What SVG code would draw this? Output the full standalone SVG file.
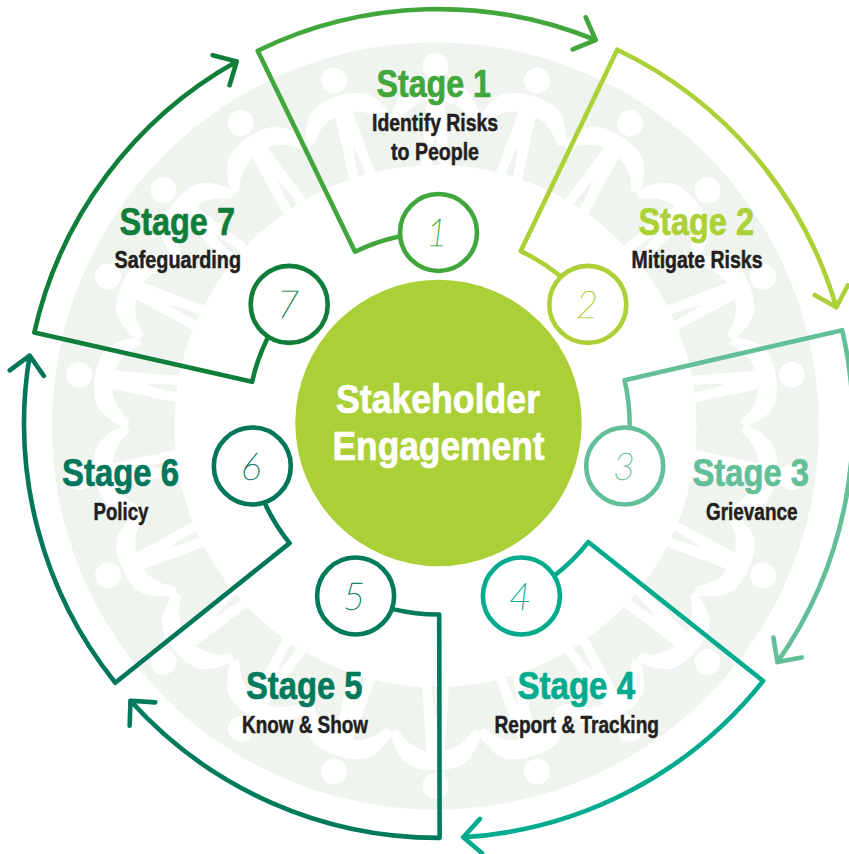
<svg xmlns="http://www.w3.org/2000/svg" xmlns:xlink="http://www.w3.org/1999/xlink" width="849" height="854" viewBox="0 0 849 854">
<style>
.seg{fill:none;stroke-width:4.6;stroke-linejoin:round;stroke-linecap:round}
.ring{fill:#fff;stroke-width:4.6}
.t{font-family:"Liberation Sans",Arial,sans-serif;font-weight:700;stroke-linejoin:round}
.st{font-size:38px;stroke:currentColor;stroke-width:.7px}
.sub{font-size:23px;fill:#231f20;stroke:#231f20;stroke-width:.5px}
.ctr{font-size:40px;fill:#fff;stroke:#fff;stroke-width:.7px}
.num{font-family:"Lato","Open Sans",sans-serif;font-weight:100;font-style:italic;font-size:38px;text-anchor:middle;stroke:currentColor;stroke-width:.5px}
.c1{color:#41a63c}.c2{color:#acd136}.c3{color:#62bf98}.c4{color:#00ab8e}.c5{color:#007a5c}.c6{color:#00765a}.c7{color:#0f7e3a}
.seg,.ring{stroke:currentColor}
.st,.num{fill:currentColor}
</style>
<defs>
<path id="person" fill="#fff" transform="translate(435.5,66)" d="M-44.5,49C-39,33-33,22-20,18.5C-8,15 8,15 20,18.5C33,22 39,33 44.5,49Q45.5,55 41,56Q38,57 36,54C31,46 22,38 9,35L14,108L4,108C4,90 2,78 0,68C-2,78-4,90-4,108L-14,108L-9,35C-22,38-31,46-36,54Q-38,57-41,56Q-45.5,55-44.5,49ZM13,0A13,13 0 1 1-13,0A13,13 0 1 1 13,0Z"/>
<path id="seg" d="M398,236.7A191,191 0 0 0 355,251.7L257.7,50.7A414.3,414.3 0 0 1 595.7,40M585.7,17.3L595.7,40L572.7,49.3"/>
</defs>
<rect width="849" height="854" fill="#fff"/>
<g id="band">
<circle cx="435.5" cy="426" r="383.5" fill="#eff4ef"/>
<use xlink:href="#person"/>
<use xlink:href="#person" transform="rotate(16.364 435.5 426)"/>
<use xlink:href="#person" transform="rotate(32.727 435.5 426)"/>
<use xlink:href="#person" transform="rotate(49.091 435.5 426)"/>
<use xlink:href="#person" transform="rotate(65.455 435.5 426)"/>
<use xlink:href="#person" transform="rotate(81.818 435.5 426)"/>
<use xlink:href="#person" transform="rotate(98.182 435.5 426)"/>
<use xlink:href="#person" transform="rotate(114.545 435.5 426)"/>
<use xlink:href="#person" transform="rotate(130.909 435.5 426)"/>
<use xlink:href="#person" transform="rotate(147.273 435.5 426)"/>
<use xlink:href="#person" transform="rotate(163.636 435.5 426)"/>
<use xlink:href="#person" transform="rotate(180 435.5 426)"/>
<use xlink:href="#person" transform="rotate(196.364 435.5 426)"/>
<use xlink:href="#person" transform="rotate(212.727 435.5 426)"/>
<use xlink:href="#person" transform="rotate(229.091 435.5 426)"/>
<use xlink:href="#person" transform="rotate(245.455 435.5 426)"/>
<use xlink:href="#person" transform="rotate(261.818 435.5 426)"/>
<use xlink:href="#person" transform="rotate(278.182 435.5 426)"/>
<use xlink:href="#person" transform="rotate(294.545 435.5 426)"/>
<use xlink:href="#person" transform="rotate(310.909 435.5 426)"/>
<use xlink:href="#person" transform="rotate(327.273 435.5 426)"/>
<use xlink:href="#person" transform="rotate(343.636 435.5 426)"/>
<circle cx="435.5" cy="426" r="261" fill="#fff"/>
</g>
<g id="connectors">
<use xlink:href="#seg" class="seg c1"/>
<use xlink:href="#seg" class="seg c2" transform="rotate(51.429 438.5 423.5)"/>
<use xlink:href="#seg" class="seg c3" transform="rotate(102.857 438.5 423.5)"/>
<use xlink:href="#seg" class="seg c4" transform="rotate(154.286 438.5 423.5)"/>
<use xlink:href="#seg" class="seg c5" transform="rotate(205.714 438.5 423.5)"/>
<use xlink:href="#seg" class="seg c6" transform="rotate(257.143 438.5 423.5)"/>
<use xlink:href="#seg" class="seg c7" transform="rotate(308.571 438.5 423.5)"/>
</g>
<g id="center">
<circle cx="438.5" cy="423" r="143.2" fill="#abd037"/>
<text class="t ctr" x="336" y="412.7" textLength="204" lengthAdjust="spacingAndGlyphs">Stakeholder</text>
<text class="t ctr" x="332.5" y="460" textLength="212" lengthAdjust="spacingAndGlyphs">Engagement</text>
</g>
<g id="stage1" class="c1">
<circle class="ring" cx="438.5" cy="232.5" r="38.5"/>
<text class="num" x="437" y="246">1</text>
<text class="t st" x="376.5" y="97.3" textLength="114.5" lengthAdjust="spacingAndGlyphs">Stage 1</text>
<text class="t sub" x="372" y="130.7" textLength="126" lengthAdjust="spacingAndGlyphs">Identify Risks</text>
<text class="t sub" x="391" y="160" textLength="88" lengthAdjust="spacingAndGlyphs">to People</text>
</g>
<g id="stage2" class="c2">
<circle class="ring" cx="587.8" cy="304.4" r="38.5"/>
<text class="num" x="587" y="318">2</text>
<text class="t st" x="638.5" y="235" textLength="115.5" lengthAdjust="spacingAndGlyphs">Stage 2</text>
<text class="t sub" x="631.5" y="268.3" textLength="131" lengthAdjust="spacingAndGlyphs">Mitigate Risks</text>
</g>
<g id="stage3" class="c3">
<circle class="ring" cx="624.7" cy="466" r="38.5"/>
<text class="num" x="624" y="480">3</text>
<text class="t st" x="692.5" y="485.7" textLength="116.5" lengthAdjust="spacingAndGlyphs">Stage 3</text>
<text class="t sub" x="706" y="520" textLength="91.5" lengthAdjust="spacingAndGlyphs">Grievance</text>
</g>
<g id="stage4" class="c4">
<circle class="ring" cx="521.4" cy="596" r="38.5"/>
<text class="num" x="520" y="610">4</text>
<text class="t st" x="517.5" y="699" textLength="117.5" lengthAdjust="spacingAndGlyphs">Stage 4</text>
<text class="t sub" x="494.5" y="733.3" textLength="164.5" lengthAdjust="spacingAndGlyphs">Report &amp; Tracking</text>
</g>
<g id="stage5" class="c5">
<circle class="ring" cx="355.6" cy="596" r="38.5"/>
<text class="num" x="354" y="610">5</text>
<text class="t st" x="246" y="699" textLength="116.5" lengthAdjust="spacingAndGlyphs">Stage 5</text>
<text class="t sub" x="242" y="733.3" textLength="126" lengthAdjust="spacingAndGlyphs">Know &amp; Show</text>
</g>
<g id="stage6" class="c6">
<circle class="ring" cx="252.3" cy="466" r="38.5"/>
<text class="num" x="251" y="480">6</text>
<text class="t st" x="62" y="485.7" textLength="117" lengthAdjust="spacingAndGlyphs">Stage 6</text>
<text class="t sub" x="93.5" y="520" textLength="55" lengthAdjust="spacingAndGlyphs">Policy</text>
</g>
<g id="stage7" class="c7">
<circle class="ring" cx="289.2" cy="304.4" r="38.5"/>
<text class="num" x="288" y="318">7</text>
<text class="t st" x="119.5" y="235" textLength="115.5" lengthAdjust="spacingAndGlyphs">Stage 7</text>
<text class="t sub" x="114.5" y="268.3" textLength="126.5" lengthAdjust="spacingAndGlyphs">Safeguarding</text>
</g>
</svg>
